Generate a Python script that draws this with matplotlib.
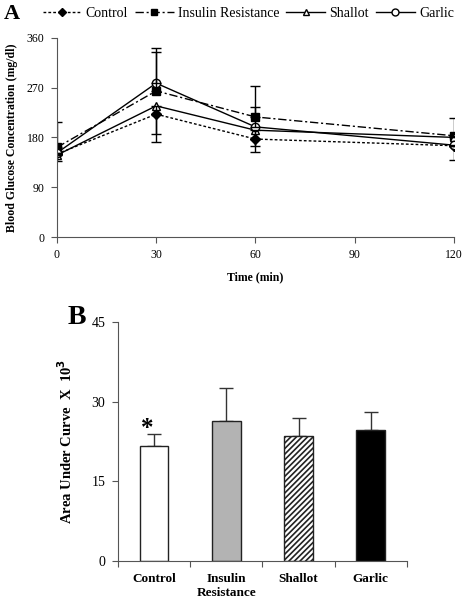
import matplotlib
matplotlib.use("Agg")
import matplotlib.pyplot as plt
import numpy as np
from matplotlib.lines import Line2D

plt.rcParams['font.family'] = ['Liberation Serif', 'DejaVu Serif']
plt.rcParams['hatch.linewidth'] = 1.2

# panel A data: glucose tolerance curves
times = [0, 30, 60, 120]
control = [150, 222, 177, 165]
insulin = [162, 264, 217, 183]
shallot = [148, 237, 193, 180]
garlic = [152, 278, 199, 166]
# error bars (only one side is visible in the original figure)
control_lo = [13, 50, 23, 0]
insulin_up = [46, 71, 56, 32]
shallot_lo = [0, 51, 29, 0]
garlic_up = [0, 64, 36, 0]
garlic_lo = [0, 0, 0, 27]

# panel B data: area under curve
groups = ['Control', 'Insulin\nResistance', 'Shallot', 'Garlic']
auc = [21.7, 26.4, 23.5, 24.7]
auc_err = [2.2, 6.2, 3.4, 3.3]

fig = plt.figure(figsize=(4.64, 6), dpi=100)

# ---- panel A
ax = fig.add_axes([0.1228, 0.605, 0.855, 0.332])
ax.plot(times, control, color='black', lw=1, ls=(0, (2, 1.5)), marker='D', ms=5,
        mfc='black', mec='black')
ax.plot(times, insulin, color='black', lw=1, ls=(0, (6, 2, 1.5, 2)), marker='s', ms=6,
        mfc='black', mec='black')
ax.plot(times, shallot, color='black', lw=1, ls='-', marker='^', ms=6,
        mfc='white', mec='black')
ax.plot(times, garlic, color='black', lw=1, ls='-', marker='o', ms=6,
        mfc='white', mec='black')

ek = dict(fmt='none', ecolor='black', elinewidth=1, capsize=3.5, capthick=1)
ax.errorbar(times, control, yerr=[control_lo, [0] * 4], **ek)
ax.errorbar(times, insulin, yerr=[[0] * 4, insulin_up], **ek)
ax.errorbar(times, shallot, yerr=[shallot_lo, [0] * 4], **ek)
ax.errorbar(times, garlic, yerr=[garlic_lo, garlic_up], **ek)

ax.set_xlim(0, 120)
ax.set_ylim(0, 360)
ax.set_xticks([0, 30, 60, 90, 120])
ax.set_yticks([0, 90, 180, 270, 360])
ax.spines['top'].set_visible(False)
ax.spines['right'].set_visible(False)
ax.spines['left'].set_color('#555555')
ax.spines['bottom'].set_color('#555555')
ax.tick_params(direction='out', length=4, labelsize=8.5, color='#555555', pad=5)
ax.set_xlabel('Time (min)', fontsize=8.5, fontweight='bold', labelpad=7)
ax.set_ylabel('Blood Glucose Concentration (mg/dl)', fontsize=8.5, fontweight='bold',
              labelpad=6)

handles = [
    Line2D([], [], color='black', lw=1, ls=(0, (2, 1.5)), marker='D', ms=4.5),
    Line2D([], [], color='black', lw=1, ls=(0, (6, 2, 1.5, 2)), marker='s', ms=5),
    Line2D([], [], color='black', lw=1, marker='^', ms=5, mfc='white'),
    Line2D([], [], color='black', lw=1, marker='o', ms=5, mfc='white'),
]
fig.legend(handles, ['Control', 'Insulin Resistance', 'Shallot', 'Garlic'],
           loc='center', bbox_to_anchor=(0.535, 0.977), ncol=4, frameon=False,
           fontsize=10, handlelength=2.8, handletextpad=0.3, columnspacing=0.5)
fig.text(0.008, 0.977, 'A', fontsize=16, fontweight='bold', va='center')

# ---- panel B
bx = fig.add_axes([0.254, 0.065, 0.623, 0.398])
x = np.arange(len(groups))
colors = ['white', '#b3b3b3', 'white', 'black']
hatches = [None, None, '//////', None]
for i in range(len(groups)):
    bx.bar(x[i], auc[i], width=0.4, color=colors[i], edgecolor='#222222', lw=1,
           hatch=hatches[i], zorder=2)
bx.errorbar(x, auc, yerr=[[0] * 4, auc_err], fmt='none', ecolor='#333333',
            elinewidth=1, capsize=5, capthick=1, zorder=1)
bx.text(x[0] - 0.1, auc[0] + auc_err[0] + 1.0, '*', fontsize=18, fontweight='bold',
        ha='center', va='center')

bx.set_xlim(-0.5, 3.5)
bx.set_ylim(0, 45)
bx.set_yticks([0, 15, 30, 45])
bx.set_xticks([-0.5, 0.5, 1.5, 2.5, 3.5])
bx.set_xticklabels([])
bx.set_xticks(x, minor=True)
bx.set_xticklabels(groups, minor=True, fontsize=9.5, fontweight='bold', va='top')
bx.tick_params(axis='x', which='minor', length=0, pad=9)
bx.spines['top'].set_visible(False)
bx.spines['right'].set_visible(False)
bx.spines['left'].set_color('#555555')
bx.spines['bottom'].set_color('#555555')
bx.tick_params(which='major', direction='out', length=4, labelsize=10, color='#555555',
               pad=5)
bx.set_ylabel(r'Area Under Curve  X  10$^{\mathbf{3}}$', fontsize=10.5,
              fontweight='bold', labelpad=12)
fig.text(0.145, 0.47, 'B', fontsize=20, fontweight='bold', va='center')

fig.savefig('out.png', dpi=100)
